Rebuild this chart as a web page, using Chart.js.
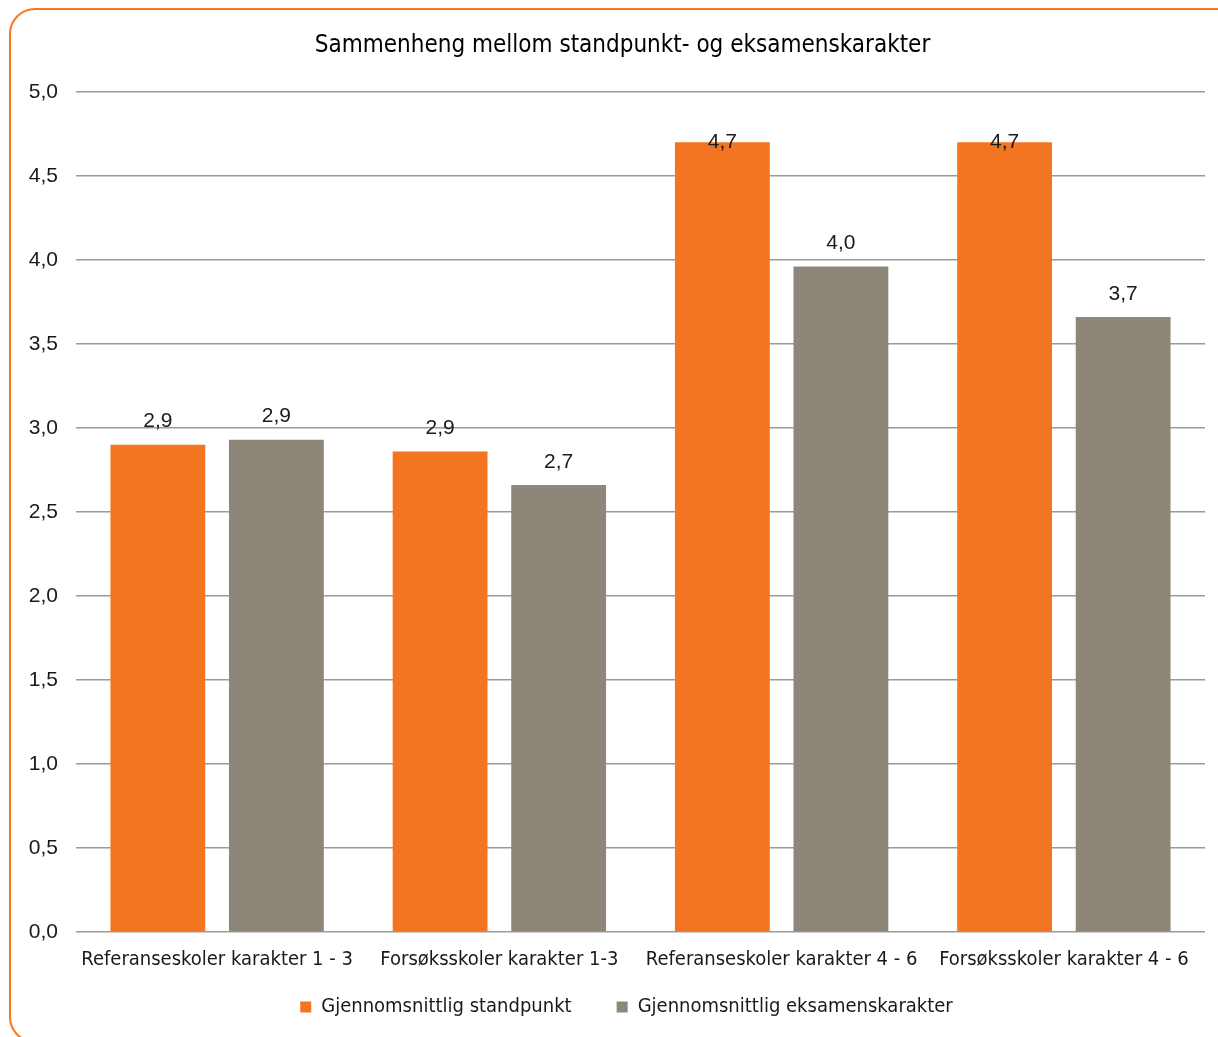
<!DOCTYPE html>
<html>
<head>
<meta charset="utf-8">
<script src="https://cdn.jsdelivr.net/npm/chart.js@4.4.1/dist/chart.umd.min.js"></script>
<style>
  html, body { margin: 0; padding: 0; background: #fff; overflow: hidden; }
  #wrap { position: relative; width: 1218px; height: 1037px; }
  #ramme {
    position: absolute; left: 9px; top: 8px; width: 1240px; height: 1035px;
    border: 2px solid #F47920; border-radius: 26px; box-sizing: border-box;
  }
  #myChart { position: absolute; left: 0; top: 0; }
</style>
</head>
<body>
<div id="wrap">
  <div id="ramme"></div>
  <canvas id="myChart" width="1218" height="1037"></canvas>
</div>
<script>
// Kategorier og verdier lest av figuren
const kategorier = ['Referanseskoler karakter 1 - 3', 'Forsøksskoler karakter 1-3', 'Referanseskoler karakter 4 - 6', 'Forsøksskoler karakter 4 - 6'];
const standpunkt = [2.90, 2.86, 4.70, 4.70];
const eksamen = [2.93, 2.66, 3.96, 3.66];
const tittel = 'Sammenheng mellom standpunkt- og eksamenskarakter';

const smal = "'Liberation Sans Narrow', 'Arial Narrow', 'DejaVu Sans Condensed', sans-serif";
const vanlig = "'Liberation Sans', Arial, sans-serif";

const komma = (v) => v.toFixed(1).replace('.', ',');

// Verdietiketter over søylene
const etiketter = {
    id: 'etiketter',
    afterDatasetsDraw(chart) {
        const ctx = chart.ctx;
        ctx.save();
        ctx.font = '21px ' + vanlig;
        ctx.fillStyle = '#1a1a1a';
        ctx.textAlign = 'center';
        ctx.textBaseline = 'middle';
        chart.data.datasets.forEach((ds, i) => {
            chart.getDatasetMeta(i).data.forEach((bar, j) => {
                const y = Math.max(bar.y - 23, chart.chartArea.top + 50);
                ctx.fillText(komma(ds.data[j]), bar.x, y);
            });
        });
        ctx.restore();
    }
};

// Flytter legenden opp (padding brukes bare som avstand mellom elementene)
// og sentrerer legende og tittel som i originalen
const flyttLegende = {
    id: 'flyttLegende',
    afterLayout(chart) {
        const lg = chart.legend;
        lg.top -= 45; lg.bottom -= 45;
        lg.left += 14; lg.right += 14;
        const t = chart.titleBlock;
        t.left += 10; t.right += 10;
    }
};

const ctx = document.getElementById('myChart').getContext('2d');
const myChart = new Chart(ctx, {
    type: 'bar',
    data: {
        labels: kategorier,
        datasets: [{
            label: 'Gjennomsnittlig standpunkt',
            data: standpunkt,
            backgroundColor: '#F47521'
        }, {
            label: 'Gjennomsnittlig eksamenskarakter',
            data: eksamen,
            backgroundColor: '#8E8779'
        }]
    },
    options: {
        responsive: false,
        animation: false,
        categoryPercentage: 0.84,
        barPercentage: 0.80,
        layout: { padding: { left: 20, right: 13, top: 0, bottom: -35 } },
        scales: {
            x: {
                afterFit(s) { s.height = 65; },
                grid: { display: false },
                border: { display: false },
                ticks: { color: '#1a1a1a', font: { family: smal, size: 20 }, padding: 8, maxRotation: 0, autoSkip: false }
            },
            y: {
                min: 0,
                max: 5,
                afterFit(s) { s.width = 56; },
                grid: { color: '#9a9a9a', lineWidth: 1.5, drawTicks: false },
                border: { display: false },
                ticks: { stepSize: 0.5, color: '#1a1a1a', font: { family: vanlig, size: 21 }, padding: 18, callback: (v) => komma(v) }
            }
        },
        plugins: {
            title: {
                display: true,
                text: tittel,
                color: '#000',
                font: { family: smal, size: 24, weight: 'normal' },
                padding: { top: 31, bottom: 32 }
            },
            legend: {
                position: 'bottom',
                labels: { color: '#1a1a1a', font: { family: smal, size: 20 }, boxWidth: 11, boxHeight: 11, padding: 45 }
            },
            tooltip: { enabled: false }
        }
    },
    plugins: [etiketter, flyttLegende]
});
</script>
</body>
</html>
